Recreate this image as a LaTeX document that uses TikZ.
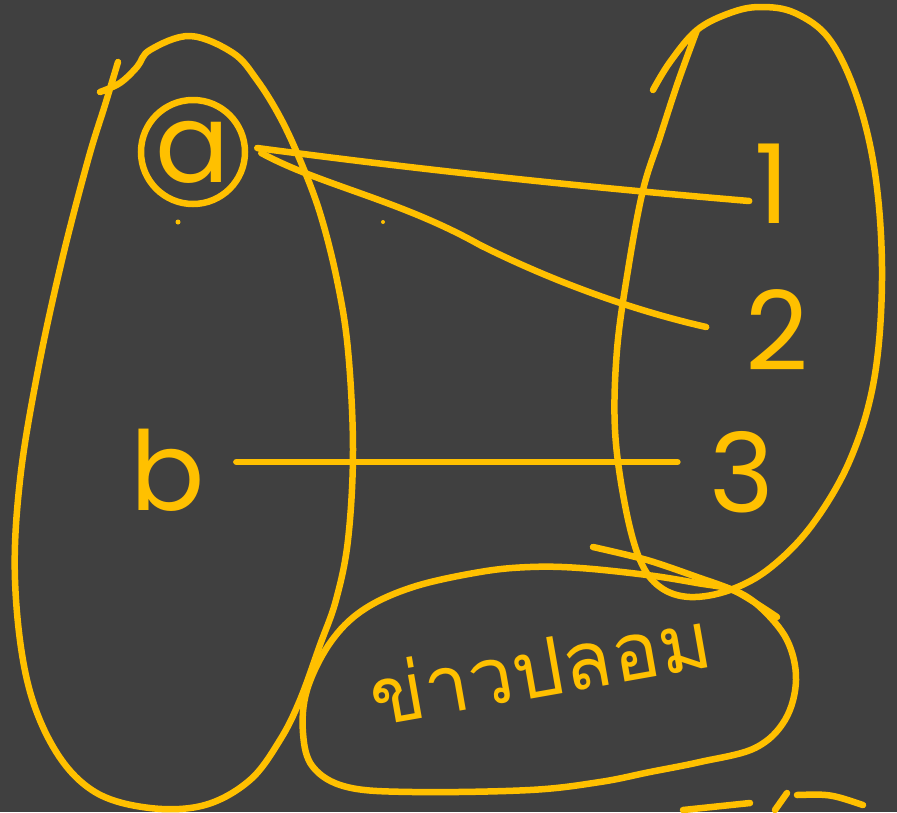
\documentclass[tikz,border=0pt]{standalone}
\usepackage{fontspec}
\newfontfamily\hand{Poppins}
\newfontfamily\thaifont[Script=Thai]{Loma}
\definecolor{bg}{HTML}{404040}
\definecolor{pen}{HTML}{FFC000}
\begin{document}
\begin{tikzpicture}[x=1pt,y=-1pt,
  ink/.style={draw=pen, line width=6.5pt, line cap=round, line join=round},
  lbl/.style={text=pen, inner sep=0pt, font=\hand\fontsize{110}{120}\selectfont},
  thai/.style={text=pen, inner sep=0pt, font=\thaifont\fontsize{80}{90}\selectfont}]
\fill[bg] (0,0) rectangle (897,812);
\useasboundingbox (0,0) rectangle (897,812);

% left set
\draw[ink] plot[smooth, tension=0.6] coordinates {(100,92) (120,83) (137,67) (150,50) (190,36) (233,53) (257,80) (280,117) (300,160) (320,213) (337,280) (348,350) (353,450) (348,540) (336,600) (320,645) (300,700) (280,740) (250,780) (205,805) (150,808) (95,792) (55,750) (27,680) (15,580) (20,480) (38,370) (62,260) (88,160) (105,105) (118,62)};

% right set
\draw[ink] plot[smooth, tension=0.6] coordinates {(653,90) (670,62) (697,30) (730,13) (760,7) (795,13) (830,40) (858,100) (876,180) (882,280) (874,380) (850,460) (812,525) (770,568) (730,590) (690,597) (660,587) (640,560) (625,505) (615,430) (617,350) (628,270) (643,190) (660,137) (678,82) (697,30)};

% bottom set
\draw[ink] plot[smooth cycle, tension=0.6] coordinates {(530,567) (580,568) (647,575) (697,583) (733,590) (760,607) (787,640) (796,680) (785,720) (755,748) (700,762) (650,772) (600,782) (530,790) (413,792) (347,787) (313,767) (303,733) (307,690) (330,643) (363,610) (413,587) (480,572)};

% extra swoop
\draw[ink] plot[smooth] coordinates {(593,547) (647,560) (697,577) (737,592) (777,617)};

% cut-off strokes at the bottom edge
\draw[ink] (683,810) -- (750,803);
\draw[ink] (775,810) -- (787,793);
\draw[ink] (797,795) .. controls (830,794) .. (863,805);

% tiny dots
\fill[pen] (178,222) circle (2.5);
\fill[pen] (383,222) circle (2);

% elements
\node[lbl, draw=pen, line width=6.5pt, circle, minimum size=104pt] (a) at (193,152) {a};
\node[lbl] (b) at (168,470) {b};
\node[lbl] (n1) at (772,184) {1};
\node[lbl] (n2) at (777,330) {2};
\node[lbl] (n3) at (742,472) {3};
\node[thai, rotate=10] (t) at (540,666) {ข่าวปลอม};

% connectors
\draw[ink] ([xshift=9pt,yshift=4pt]a.east) .. controls (400,167) and (560,185) .. ([xshift=-5pt,yshift=-17pt]n1.west);
\draw[ink] ([xshift=13pt,yshift=-1pt]a.east) .. controls (320,185) and (400,200) .. (480,245)
  .. controls (560,285) and (640,312) .. ([xshift=-39pt,yshift=3pt]n2.west);
\draw[ink] ([xshift=31pt,yshift=8pt]b.east) -- ([xshift=-32pt,yshift=10pt]n3.west);
\end{tikzpicture}
\end{document}
